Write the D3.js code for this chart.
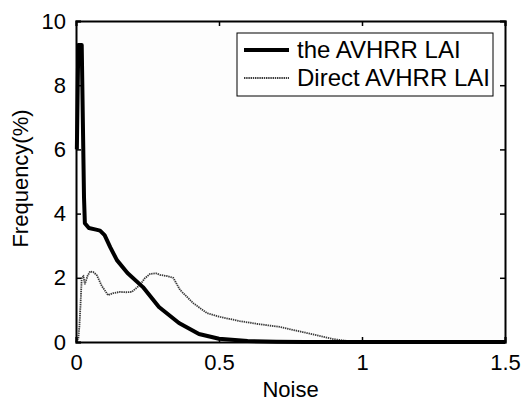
<!DOCTYPE html>
<html>
<head>
<meta charset="utf-8">
<script src="https://cdn.jsdelivr.net/npm/d3@7"></script>
<style>
  body { margin: 0; background: #fff; }
  text { font-family: "Liberation Sans", Arial, sans-serif; fill: #000; }
</style>
</head>
<body>
<div id="chart"></div>
<script>
// noise vs frequency
var avhrrX = [0.003, 0.008, 0.02, 0.028, 0.031, 0.045, 0.07, 0.084, 0.1, 0.12, 0.143, 0.18, 0.234, 0.29, 0.36, 0.43, 0.5, 0.6, 0.7, 0.8, 1.0, 1.5]
var avhrrY = [6.0, 9.25, 9.25, 4.5, 3.7, 3.55, 3.5, 3.47, 3.33, 2.95, 2.55, 2.15, 1.71, 1.09, 0.59, 0.25, 0.1, 0.03, 0.01, 0, 0, 0]

var directX = [0, 0.008, 0.012, 0.016, 0.02, 0.026, 0.031, 0.04, 0.049, 0.06, 0.073, 0.09, 0.112, 0.13, 0.154, 0.175, 0.195, 0.224, 0.24, 0.259, 0.28, 0.294, 0.32, 0.34, 0.364, 0.41, 0.458, 0.504, 0.573, 0.637, 0.713, 0.807, 0.9, 0.95, 1.0, 1.5]
var directY = [0, 0.1, 0.5, 1.2, 2.0, 2.05, 1.8, 2.05, 2.2, 2.18, 2.08, 1.75, 1.46, 1.52, 1.56, 1.55, 1.56, 1.78, 1.98, 2.12, 2.14, 2.09, 2.05, 2.0, 1.62, 1.21, 0.9, 0.78, 0.65, 0.56, 0.47, 0.28, 0.09, 0.03, 0.0, 0]

var xTicks = [0, 0.5, 1, 1.5]
var yTicks = [0, 2, 4, 6, 8, 10]
var seriesNames = ['the AVHRR LAI', 'Direct AVHRR LAI']

var width = 522
var height = 401
var margin = { left: 76, right: 17, top: 21, bottom: 59 }
var innerW = width - margin.left - margin.right
var innerH = height - margin.top - margin.bottom
var fontSize = '22px'

var svg = d3.select('#chart').append('svg').attr('width', width).attr('height', height)

var x = d3.scaleLinear().domain([0, 1.5]).range([0, innerW])
var y = d3.scaleLinear().domain([0, 10]).range([innerH, 0])

var g = svg.append('g').attr('transform', 'translate(' + margin.left + ',' + margin.top + ')')

g.append('rect').attr('width', innerW).attr('height', innerH).attr('fill', '#fdfdfd')

var line = d3.line().x(function(d) { return x(d[0]) }).y(function(d) { return y(d[1]) })

var directPts = d3.zip(directX, directY)
var avhrrPts = d3.zip(avhrrX, avhrrY)

g.append('path').datum(directPts).attr('d', line)
  .attr('fill', 'none').attr('stroke', '#3a3a3a').attr('stroke-width', 1.8)
  .attr('stroke-dasharray', '1.4,0.8')

g.append('path').datum(avhrrPts).attr('d', line)
  .attr('fill', 'none').attr('stroke', '#000').attr('stroke-width', 4)
  .attr('stroke-linejoin', 'round')

// axes, ticks point inward, mirrored on top and right
var tickLen = 5
g.append('g').attr('transform', 'translate(0,' + innerH + ')')
  .call(d3.axisBottom(x).tickValues(xTicks).tickSize(-tickLen).tickPadding(12).tickFormat(d3.format('')))
g.append('g')
  .call(d3.axisLeft(y).tickValues(yTicks).tickSize(-tickLen).tickPadding(10))
g.append('g').call(d3.axisTop(x).tickValues(xTicks).tickSize(-tickLen).tickFormat(''))
g.append('g').attr('transform', 'translate(' + innerW + ',0)')
  .call(d3.axisRight(y).tickValues(yTicks).tickSize(-tickLen).tickFormat(''))

g.selectAll('.domain').attr('stroke', '#000').attr('stroke-width', 2)
g.selectAll('.tick line').attr('stroke', '#000').attr('stroke-width', 1.5)
g.selectAll('.tick text').style('font-size', fontSize).style('font-family', '"Liberation Sans", Arial, sans-serif')

svg.append('text').attr('x', margin.left + innerW / 2).attr('y', 397)
  .attr('text-anchor', 'middle').style('font-size', fontSize).text('Noise')
svg.append('text').attr('transform', 'translate(28,' + (margin.top + innerH / 2 - 3) + ') rotate(-90)')
  .attr('text-anchor', 'middle').style('font-size', fontSize).text('Frequency(%)')

// legend
var leg = svg.append('g').attr('transform', 'translate(237,33)')
leg.append('rect').attr('width', 256).attr('height', 63)
  .attr('fill', '#fff').attr('stroke', '#000').attr('stroke-width', 1)
var legStyles = [{ w: 4, dash: null, c: '#000' }, { w: 1.8, dash: '1.4,0.8', c: '#3a3a3a' }]
seriesNames.forEach(function(name, i) {
  var yy = 17 + i * 28
  leg.append('line').attr('x1', 7).attr('x2', 52).attr('y1', yy).attr('y2', yy)
    .attr('stroke', legStyles[i].c).attr('stroke-width', legStyles[i].w)
    .attr('stroke-dasharray', legStyles[i].dash)
  leg.append('text').attr('x', 60).attr('y', yy + 8).style('font-size', '24px').text(name)
})
</script>
</body>
</html>
